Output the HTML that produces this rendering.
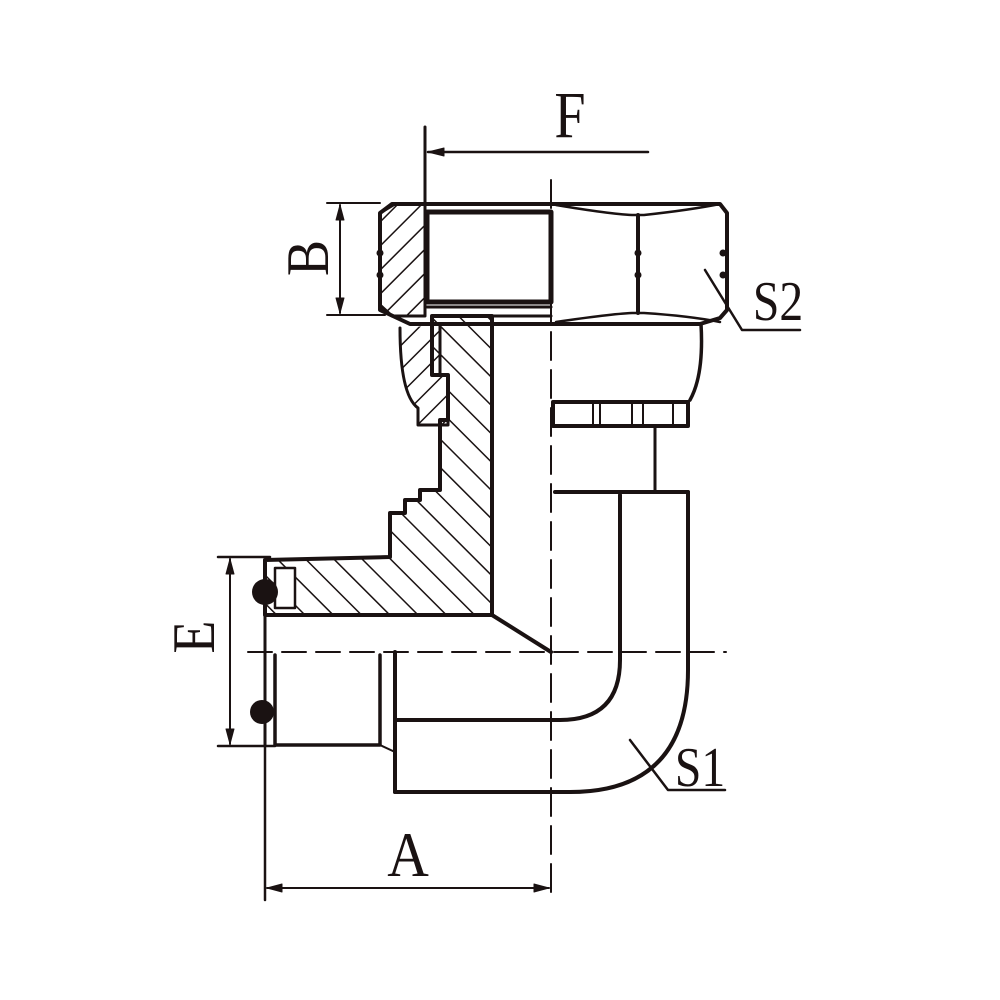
<!DOCTYPE html>
<html><head><style>html,body{margin:0;padding:0;background:#fff}svg{display:block}</style></head>
<body>
<svg width="1000" height="1000" viewBox="0 0 1000 1000" xmlns="http://www.w3.org/2000/svg">
<defs>
<pattern id="h1" patternUnits="userSpaceOnUse" width="17" height="17" patternTransform="rotate(45)"><line x1="0" y1="0" x2="0" y2="17" stroke="#1a1212" stroke-width="3"/></pattern>
<pattern id="h2" patternUnits="userSpaceOnUse" width="20" height="20" patternTransform="rotate(-45)"><line x1="0" y1="0" x2="0" y2="20" stroke="#1a1212" stroke-width="3"/></pattern>
</defs>
<g fill="none" stroke="#1a1212" stroke-linecap="round" stroke-linejoin="round">
<line x1="551" y1="180" x2="551" y2="900" stroke-width="2" stroke-dasharray="28,10"/>
<line x1="248" y1="652" x2="726" y2="652" stroke-width="2" stroke-dasharray="24,10"/>

<line x1="425" y1="127" x2="425" y2="203" stroke-width="3"/>
<line x1="428" y1="152" x2="648" y2="152" stroke-width="2.5"/>
<path d="M428 152 L444 148 L444 156 Z" fill="#1a1212"/>
<line x1="327" y1="203" x2="380" y2="203" stroke-width="2"/>
<line x1="327" y1="315" x2="385" y2="315" stroke-width="2"/>
<line x1="340" y1="205" x2="340" y2="313" stroke-width="2"/>
<path d="M340 205 L336 220 L344 220 Z M340 313 L336 298 L344 298 Z" fill="#1a1212"/>
<line x1="218" y1="557" x2="270" y2="557" stroke-width="2.5"/>
<line x1="218" y1="746" x2="275" y2="746" stroke-width="2.5"/>
<line x1="230" y1="559" x2="230" y2="744" stroke-width="2"/>
<path d="M230 559 L226 574 L234 574 Z M230 744 L226 729 L234 729 Z" fill="#1a1212"/>
<line x1="265" y1="600" x2="265" y2="900" stroke-width="2.5"/>
<line x1="267" y1="888" x2="549" y2="888" stroke-width="2"/>
<path d="M267 888 L282 884 L282 892 Z M549 888 L534 884 L534 892 Z" fill="#1a1212"/>

<path d="M380 213 L392 204 L720 204 L727 213 L727 310 L720 318 L700 324 L410 324 L380 310 Z" stroke-width="4"/>
<path d="M380 213 L395 204 L425 204 L425 316 L392 316 L380 305 Z" fill="url(#h1)" stroke-width="3"/>
<rect x="427" y="212" width="124" height="90" stroke-width="5"/>
<line x1="427" y1="307" x2="551" y2="307" stroke-width="3"/>
<line x1="638" y1="215" x2="638" y2="313" stroke-width="4"/>
<path d="M556 205 Q610 214 632 215 L644 215 Q690 210 720 204" stroke-width="2.5"/>
<path d="M556 322 Q610 314 632 313 L644 313 Q690 316 720 322" stroke-width="2.5"/>
<circle cx="638" cy="253" r="3" fill="#1a1212"/><circle cx="638" cy="275" r="3" fill="#1a1212"/>
<circle cx="723" cy="253" r="3" fill="#1a1212"/><circle cx="723" cy="275" r="3" fill="#1a1212"/>
<circle cx="380" cy="253" r="3" fill="#1a1212"/><circle cx="380" cy="275" r="3" fill="#1a1212"/>
<path d="M705 270 L742 330 L800 330" stroke-width="2.5"/>

<path d="M400 328 Q400 395 418 408 L418 425 L448 425 L448 375 L440 375 L440 325" fill="url(#h1)" stroke-width="3"/>
<path d="M551 324 L701 324 Q704 375 690 400" stroke-width="3.5"/>
<rect x="553" y="402" width="135" height="24" stroke-width="4"/>
<line x1="593" y1="404" x2="593" y2="424" stroke-width="2"/>
<line x1="600" y1="404" x2="600" y2="424" stroke-width="2"/>
<line x1="632" y1="404" x2="632" y2="424" stroke-width="2"/>
<line x1="643" y1="404" x2="643" y2="424" stroke-width="2"/>
<line x1="673" y1="404" x2="673" y2="424" stroke-width="2"/>
<line x1="655" y1="427" x2="655" y2="492" stroke-width="3"/>

<path d="M432 316 L492 316 L492 615 L265 615 L265 560 L390 557 L390 513 L405 513 L405 500 L420 500 L420 490 L440 490 L440 420 L448 420 L448 375 L432 375 Z" fill="url(#h2)" stroke-width="4"/>
<line x1="492" y1="316" x2="551" y2="316" stroke-width="3"/>
<path d="M492 615 L551 652" stroke-width="4"/>
<rect x="275" y="568" width="20" height="40" fill="#fff" stroke-width="2.5"/>
<circle cx="265" cy="592" r="13" fill="#1a1212" stroke="none"/>
<circle cx="262" cy="712" r="12" fill="#1a1212" stroke="none"/>
<line x1="265" y1="615" x2="265" y2="745" stroke-width="3"/>

<path d="M275 655 L275 745 L380 745 L380 655" stroke-width="3.5"/>
<line x1="380" y1="745" x2="395" y2="752" stroke-width="2"/>
<line x1="395" y1="652" x2="395" y2="792" stroke-width="4"/>

<line x1="555" y1="492" x2="688" y2="492" stroke-width="4"/>
<path d="M688 492 L688 670 Q688 792 570 792 L395 792" stroke-width="4"/>
<path d="M620 495 L620 660 Q620 720 560 720 L395 720" stroke-width="4"/>
<path d="M630 740 L668 790 L725 790" stroke-width="2.5"/>
</g>
<g font-family="Liberation Serif, serif" fill="#1a1212">
<text x="0" y="0" font-size="66" text-anchor="middle" transform="translate(570,137) scale(0.85,1)">F</text>
<text x="0" y="0" font-size="60" text-anchor="middle" transform="translate(328,258) rotate(-90) scale(0.9,1)">B</text>
<text x="0" y="0" font-size="60" text-anchor="middle" transform="translate(214,637) rotate(-90) scale(0.9,1)">E</text>
<text x="0" y="0" font-size="64" text-anchor="middle" transform="translate(408,876) scale(0.9,1)">A</text>
<text x="0" y="0" font-size="56" text-anchor="middle" transform="translate(778,320) scale(0.85,1)">S2</text>
<text x="0" y="0" font-size="56" text-anchor="middle" transform="translate(700,786) scale(0.85,1)">S1</text>
</g>
</svg>
</body></html>
